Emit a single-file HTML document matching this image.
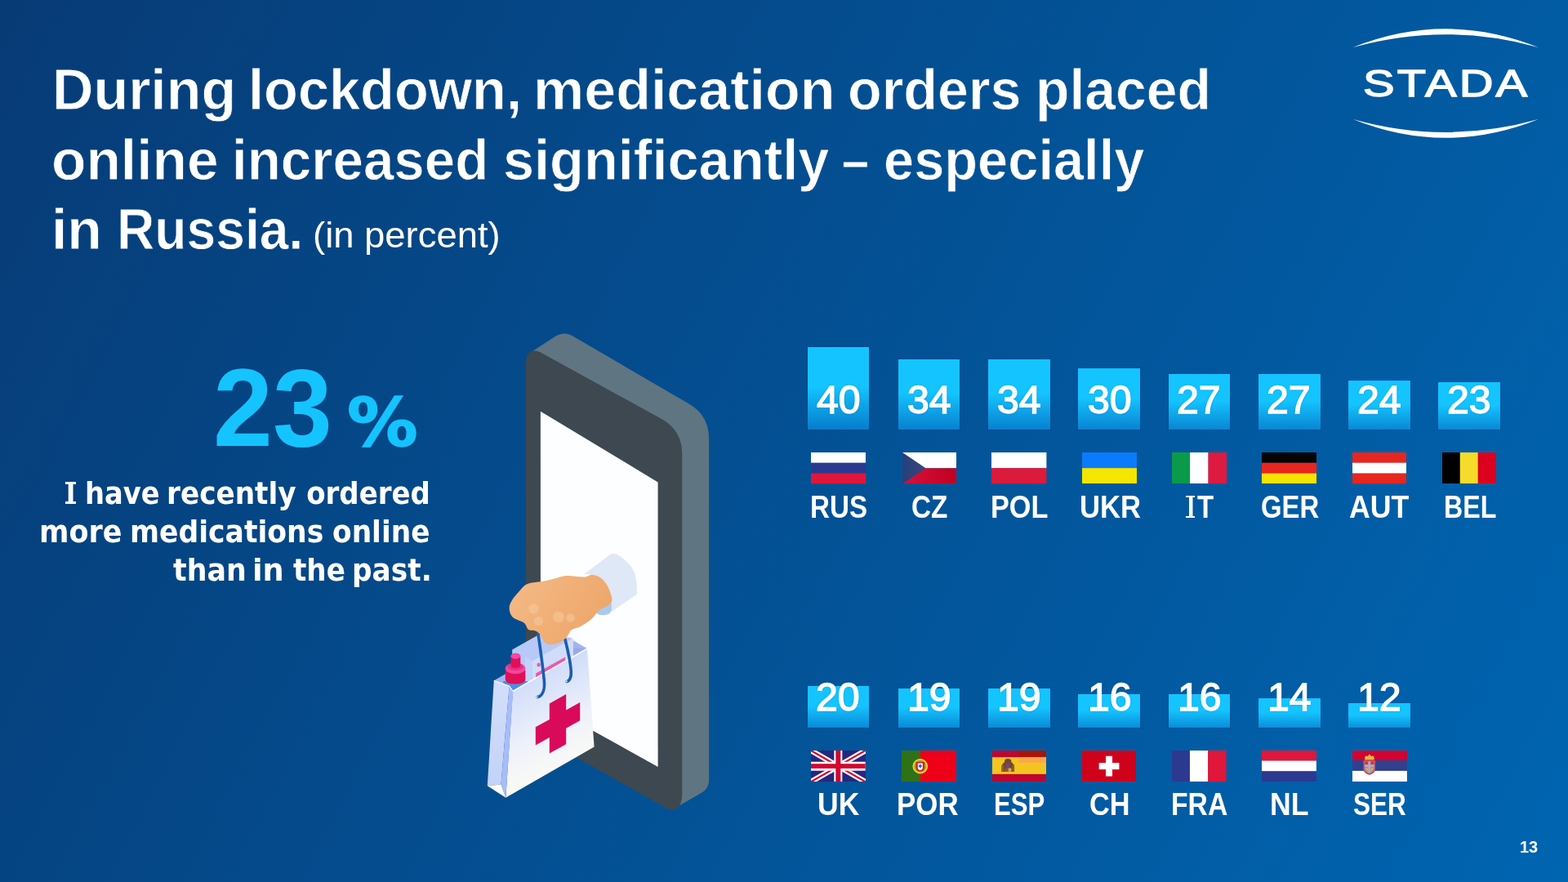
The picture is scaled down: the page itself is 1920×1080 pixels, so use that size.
<!DOCTYPE html>
<html lang="en">
<head>
<meta charset="utf-8">
<title>During lockdown, medication orders placed online increased significantly</title>
<style>
html,body{margin:0;padding:0}
body{width:1920px;height:1080px;overflow:hidden;position:relative;background:#07529a linear-gradient(117.5deg,#073b76 0%,#0065b1 100%);font-family:"Liberation Sans",sans-serif;font-weight:700;color:#fff}
.t{position:absolute;margin:0;white-space:pre;line-height:1;transform-origin:0 0;font-weight:700}
h1,p{margin:0;font-size:inherit;font-weight:inherit}
.w{position:static}
.sf{position:absolute;box-sizing:border-box;border:0 solid #fff}
.bar{position:absolute;width:75.8px;background-color:#14c4ff;box-shadow:0 0 2px rgba(0,40,110,.3)}
.n{position:absolute;margin:0;white-space:pre;line-height:1;transform-origin:0 0;font-weight:400;-webkit-text-stroke:1.4px #fff;text-shadow:0 0 3px rgba(0,70,150,.45)}
.flag,.ill,.logo{position:absolute;display:block}
.ill{left:580px;top:390px}
</style>
</head>
<body>
<h1>
<span class="t" style="left:63.77px;top:75.10px;font-size:70.2px;transform:scaleX(0.9954);-webkit-text-stroke:0.8px #063f7c;">During</span> <span class="t" style="left:303.87px;top:75.10px;font-size:70.2px;transform:scaleX(0.9760);-webkit-text-stroke:0.8px #064483;">lockdown,</span> <span class="t" style="left:652.51px;top:75.10px;font-size:70.2px;transform:scaleX(0.9972);-webkit-text-stroke:0.8px #044a8b;">medication</span> <span class="t" style="left:1038.33px;top:75.10px;font-size:70.2px;transform:scaleX(0.9729);-webkit-text-stroke:0.8px #044f93;">orders</span> <span class="t" style="left:1267.67px;top:75.10px;font-size:70.2px;transform:scaleX(0.9670);-webkit-text-stroke:0.8px #035398;">placed</span>
<span class="t" style="left:62.63px;top:160.70px;font-size:70.2px;transform:scaleX(0.9896);-webkit-text-stroke:0.8px #06407c;">online</span> <span class="t" style="left:283.95px;top:160.70px;font-size:70.2px;transform:scaleX(0.9591);-webkit-text-stroke:0.8px #054483;">increased</span> <span class="t" style="left:615.82px;top:160.70px;font-size:70.2px;transform:scaleX(0.9753);-webkit-text-stroke:0.8px #044b8c;">significantly</span> <span class="t" style="left:1031.31px;top:160.70px;font-size:70.2px;transform:scaleX(0.8429);-webkit-text-stroke:0.8px #044e91;">–</span> <span class="t" style="left:1082.15px;top:160.70px;font-size:70.2px;transform:scaleX(0.9517);-webkit-text-stroke:0.8px #035296;">especially</span>
<span class="t" style="left:62.85px;top:246.00px;font-size:70.2px;transform:scaleX(0.9906);-webkit-text-stroke:0.8px #063f7c;">in</span> <span class="t" style="left:142.93px;top:246.00px;font-size:70.2px;transform:scaleX(0.9142);-webkit-text-stroke:0.8px #064280;">Russia.</span>
<span class="t" style="left:382.90px;top:266.40px;font-size:44px;font-weight:400;transform:scaleX(1.0323);">(in percent)</span>
</h1>
<svg class="logo" style="left:1640px;top:20px" width="260" height="160" viewBox="1640 20 260 160" aria-hidden="true"><path fill="#fff" d="M1656.8 58 Q1770 12.600 1883.800 58 Q1770 26.400 1656.800 58Z"/><path fill="#fff" d="M1656.800 146 Q1770 191.600 1883.800 146 Q1770 177.800 1656.800 146Z"/></svg>
<div class="t" style="left:1668.54px;top:78.70px;font-size:46px;font-weight:400;transform:scaleX(1.2575);-webkit-text-stroke:1.4px #fff;letter-spacing:2.5px;">STADA</div>
<div class="t" style="left:260.95px;top:432.40px;font-size:135px;transform:scaleX(0.9707);color:#15c3ff;">23</div>
<div class="t" style="left:424.59px;top:476.80px;font-size:82px;font-family:'DejaVu Sans', 'Liberation Sans', sans-serif;transform:scaleX(1.0551);color:#15c3ff;-webkit-text-stroke:1.4px #15c3ff;">%</div>
<p>
<span class="w"><i class="sf" style="left:79.8px;top:589.8px;width:13.2px;height:27.3px;border-width:3.0px 0"></i><span class="t" style="left:80.74px;top:585.90px;font-size:37.8px;font-family:'DejaVu Sans Condensed', 'DejaVu Sans', sans-serif;transform:scaleX(0.8857);">I</span></span> <span class="t" style="left:103.73px;top:585.90px;font-size:37.8px;font-family:'DejaVu Sans Condensed', 'DejaVu Sans', sans-serif;transform:scaleX(0.9909);">have</span> <span class="t" style="left:204.38px;top:585.90px;font-size:37.8px;font-family:'DejaVu Sans Condensed', 'DejaVu Sans', sans-serif;transform:scaleX(1.0078);">recently</span> <span class="t" style="left:375.20px;top:585.90px;font-size:37.8px;font-family:'DejaVu Sans Condensed', 'DejaVu Sans', sans-serif;">ordered</span>
<span class="t" style="left:48.01px;top:633.00px;font-size:37.8px;font-family:'DejaVu Sans Condensed', 'DejaVu Sans', sans-serif;transform:scaleX(1.0287);">more</span> <span class="t" style="left:158.85px;top:633.00px;font-size:37.8px;font-family:'DejaVu Sans Condensed', 'DejaVu Sans', sans-serif;transform:scaleX(1.0170);">medications</span> <span class="t" style="left:406.79px;top:633.00px;font-size:37.8px;font-family:'DejaVu Sans Condensed', 'DejaVu Sans', sans-serif;transform:scaleX(1.0112);">online</span>
<span class="t" style="left:212.00px;top:680.00px;font-size:37.8px;font-family:'DejaVu Sans Condensed', 'DejaVu Sans', sans-serif;transform:scaleX(1.0235);">than</span> <span class="t" style="left:309.25px;top:680.00px;font-size:37.8px;font-family:'DejaVu Sans Condensed', 'DejaVu Sans', sans-serif;transform:scaleX(1.0833);">in</span> <span class="t" style="left:358.50px;top:680.00px;font-size:37.8px;font-family:'DejaVu Sans Condensed', 'DejaVu Sans', sans-serif;transform:scaleX(1.0048);">the</span> <span class="t" style="left:431.07px;top:680.00px;font-size:37.8px;font-family:'DejaVu Sans Condensed', 'DejaVu Sans', sans-serif;transform:scaleX(1.0111);">past.</span>
</p>
<svg class="ill" width="320" height="620" viewBox="580 390 320 620" aria-label="Hand reaching out of a smartphone holding a pharmacy bag" role="img">
<defs>
<linearGradient id="gBag" x1="0.1" y1="0" x2="0.4" y2="1"><stop offset="0" stop-color="#c3d2f6"/><stop offset="0.3" stop-color="#d6e0f9"/><stop offset="0.62" stop-color="#eef1fa"/><stop offset="1" stop-color="#fffef3"/></linearGradient>
<linearGradient id="gSide" x1="0" y1="0" x2="0" y2="1"><stop offset="0" stop-color="#d3defa"/><stop offset="1" stop-color="#c3d2f8"/></linearGradient>
<linearGradient id="gHand" x1="0" y1="0" x2="1" y2="0.5"><stop offset="0" stop-color="#f5bb87"/><stop offset="1" stop-color="#eda66a"/></linearGradient>
</defs>
<path fill="#5f7581" d="M649 432 L681 411.3 Q690.5 406 700.5 411 L845 495.3 Q868.1 509.5 868.1 537 L868.1 955 Q868.1 965.5 859.5 970.5 L826 989.8 L700 700Z"/>
<path fill="#3d4851" d="M643.7 448 Q643.7 424.5 661 431 L811 513.5 Q835.2 527.5 835.2 556 L835.2 971 Q835.2 997 816 989.8 L662 903 Q643.7 893 643.7 873Z"/>
<polygon fill="#fdfeff" points="661.9,503.7 805.6,590.4 805.6,938.9 661.9,859.2"/>
<path fill="#a9c9ef" d="M727 742 L749.5 738 Q750.5 748 746 751.5 Q739 755 731.500 751.800 Q728 749.500 727 742Z"/>
<path fill="#dfe8f6" d="M715.3 703.1 L747.2 678.7 Q752.5 676.6 757.5 680.1 Q770 688 776.5 700 Q780.3 710 780 727.4 L748.6 749.4 Q750.5 725 740 712 Q730 702 715.3 703.1Z"/>
<polygon fill="#a3b4ee" points="605.0,833.3 696.0,781.0 718.9,793.9 628.3,846.7"/>
<polygon fill="#9aa9e9" points="696.5,780.0 702.2,793.3 718.9,793.9 700.0,810.0"/>
<polygon fill="#b7c9f8" points="627.2,795.6 660.0,777.0 700.0,781.0 700.0,830.0 627.2,850.0"/>
<polygon fill="#d0dcf9" points="651.7,809.5 702.0,781.5 702.0,830.0 651.7,850.0"/>
<polygon fill="#c3d2f9" points="643.0,804.6 651.7,809.5 651.7,850.0 643.0,850.0"/>
<polygon fill="#ee5aa6" points="656.1,824.4 692.2,804.4 692.2,809.6 656.1,829.6"/>
<ellipse cx="659.6" cy="814" rx="2.2" ry="2.6" fill="#ee5aa6"/>
<path fill="#4b8fe3" d="M616.3 834 L645.8 834 L648 852 L616.3 852Z"/>
<path fill="#e00f59" d="M618.8 821 L643.4 821 L643.4 832 Q643.4 837.5 631 837.5 Q618.8 837.5 618.8 832Z"/>
<ellipse cx="631.1" cy="818.5" rx="12.4" ry="6.8" fill="#f0489c"/>
<ellipse cx="631.1" cy="816.3" rx="9.6" ry="5" fill="#e8308a"/>
<path fill="#e00f59" d="M625.5 803.5 L637.3 803.5 L637.3 814.5 Q637.3 818 631.4 818 Q625.5 818 625.5 814.5Z"/>
<ellipse cx="631.4" cy="803.3" rx="5.9" ry="3.6" fill="#f4479f"/>
<polygon fill="url(#gBag)" points="627.9,846.2 718.9,793.9 727.6,914.6 619.3,976.8"/>
<path stroke="#ffffff" stroke-width="1.3" fill="none" d="M627.9 846.4 L718.9 794.1"/>
<polygon fill="url(#gSide)" points="604.8,833.3 623.6,839.9 613.5,960.5 596.8,962.3"/>
<polygon fill="#a7bdf8" points="623.6,839.9 628.2,846.2 619.3,976.8 613.5,960.5"/>
<polygon fill="#fbfcfa" points="596.8,962.3 613.5,960.5 619.3,976.8"/>
<path stroke="#ffffff" stroke-width="1.1" fill="none" d="M604.8 833.4 L623.6 840 L628 846.3"/>
<polygon fill="#da0a5b" points="672.8,861.4 693.2,850.0 693.2,869.5 710.2,860.1 710.2,882.3 693.2,891.7 693.2,911.2 672.8,922.6 672.8,903.1 655.8,912.5 655.8,890.3 672.8,880.9"/>
<path stroke="#195db1" stroke-width="3.6" stroke-linecap="round" fill="none" d="M658.9 776 C661 790 664 810 666.3 833 C667.5 845 664 852 658.2 853.6"/>
<path stroke="#195db1" stroke-width="3.6" stroke-linecap="round" fill="none" d="M692 783 C695 795 698.5 810 699.3 822 C699.8 830 697 834 694.2 834.6"/>
<circle cx="657.6" cy="853.6" r="1.1" fill="#e6edfb"/><circle cx="693.8" cy="834.3" r="1.1" fill="#e6edfb"/>
<path fill="url(#gHand)" d="M623.6 744.7C623.5 741.2 625.1 738.2 627.0 735.0C628.9 731.8 631.6 728.6 634.7 725.3C637.8 721.9 640.5 717.2 645.8 714.9C651.1 712.6 660.5 712.7 666.7 711.4C673.0 710.1 678.7 708.2 683.3 707.2C687.9 706.2 689.1 705.2 694.4 705.1C699.7 705.0 710.2 706.7 715.3 706.5C720.4 706.3 721.5 703.5 725.0 703.7C728.5 703.9 732.9 705.5 736.1 707.9C739.3 710.3 742.2 714.0 744.4 718.3C746.6 722.6 749.1 729.9 749.3 733.6C749.5 737.3 748.5 738.3 745.8 740.6C743.1 742.9 736.8 744.7 733.3 747.5C729.8 750.3 728.7 754.0 725.0 757.2C721.3 760.4 715.3 764.6 711.1 766.9C706.9 769.2 702.8 769.0 700.0 771.1C697.2 773.2 696.7 776.9 694.4 779.4C692.1 781.9 689.3 784.8 686.1 786.4C682.9 788.0 678.2 789.2 675.0 789.2C671.8 789.2 669.0 788.5 666.7 786.4C664.4 784.3 663.0 779.0 661.1 776.7C659.2 774.4 657.9 773.4 655.6 772.5C653.3 771.6 649.5 772.7 647.2 771.1C644.9 769.5 644.9 765.3 641.7 762.8C638.5 760.2 630.8 758.8 627.8 755.8C624.8 752.8 623.7 748.2 623.6 744.7Z"/>
<circle cx="653.5" cy="745.5" r="6.2" fill="#f8cba0" opacity="0.5"/>
<circle cx="659.5" cy="760.5" r="5.6" fill="#f8cba0" opacity="0.5"/>
<circle cx="684" cy="755.5" r="7" fill="#f8cba0" opacity="0.5"/>
<circle cx="698.5" cy="756.5" r="5.2" fill="#f8cba0" opacity="0.5"/>
</svg>
<div class="bar" style="left:988.5px;top:425.3px;height:101.0px;background-image:linear-gradient(#14c4ff 0%,#14c4ff 48%,rgb(7,124,204) 100%)"></div>
<div class="n" style="left:999.60px;top:465.00px;font-size:49px;font-weight:400;transform:scaleX(0.9850);">40</div>
<svg class="flag" style="left:992.80px;top:553.70px" width="67.2" height="38.7" viewBox="0 0 67.2 38.7" role="img" aria-label="RUS flag"><rect x="0.00" y="0.00" width="67.20" height="12.90" fill="#ffffff"/><rect x="0.00" y="12.70" width="67.20" height="13.10" fill="#2b3990"/><rect x="0.00" y="25.60" width="67.20" height="13.10" fill="#e0173a"/></svg>
<div class="t" style="left:992.05px;top:602.00px;font-size:38px;transform:scaleX(0.8727);">RUS</div>
<div class="bar" style="left:1099.5px;top:440.4px;height:85.8px;background-image:linear-gradient(#14c4ff 0%,#14c4ff 48%,rgb(8,128,207) 100%)"></div>
<div class="n" style="left:1110.91px;top:465.00px;font-size:49px;font-weight:400;transform:scaleX(0.9850);">34</div>
<svg class="flag" style="left:1104.60px;top:553.70px" width="66.3" height="38.7" viewBox="0 0 66.3 38.7" role="img" aria-label="CZ flag"><defs><linearGradient id="czr" x1="0" x2="1" y1="0" y2="0"><stop offset="0" stop-color="#d5123f"/><stop offset="1" stop-color="#c20020"/></linearGradient><linearGradient id="czb" x1="0" x2="1" y1="0" y2="0"><stop offset="0" stop-color="#27407a"/><stop offset="1" stop-color="#36477d"/></linearGradient></defs><rect x="0.00" y="0.00" width="66.30" height="19.35" fill="#ffffff"/><rect x="0.00" y="19.35" width="66.30" height="19.35" fill="url(#czr)"/><polygon points="0,0 28.51,19.35 0,38.7" fill="url(#czb)"/></svg>
<div class="t" style="left:1115.62px;top:602.00px;font-size:38px;transform:scaleX(0.8755);">CZ</div>
<div class="bar" style="left:1210.1px;top:440.4px;height:85.8px;background-image:linear-gradient(#14c4ff 0%,#14c4ff 48%,rgb(8,128,207) 100%)"></div>
<div class="n" style="left:1221.11px;top:465.00px;font-size:49px;font-weight:400;transform:scaleX(0.9850);">34</div>
<svg class="flag" style="left:1214.30px;top:553.70px" width="67.4" height="38.7" viewBox="0 0 67.4 38.7" role="img" aria-label="POL flag"><rect x="0.00" y="0.00" width="67.40" height="19.35" fill="#ffffff"/><rect x="0.00" y="19.15" width="67.40" height="19.55" fill="#dc1a3c"/></svg>
<div class="t" style="left:1213.10px;top:602.00px;font-size:38px;transform:scaleX(0.9013);">POL</div>
<div class="bar" style="left:1320.3px;top:450.5px;height:75.8px;background-image:linear-gradient(#14c4ff 0%,#14c4ff 48%,rgb(9,131,209) 100%)"></div>
<div class="n" style="left:1331.50px;top:465.00px;font-size:49px;font-weight:400;transform:scaleX(0.9850);">30</div>
<svg class="flag" style="left:1325.00px;top:553.70px" width="67" height="38.7" viewBox="0 0 67 38.7" role="img" aria-label="UKR flag"><rect x="0.00" y="0.00" width="67.00" height="19.35" fill="#0a7cfb"/><rect x="0.00" y="19.15" width="67.00" height="19.55" fill="#f5e500"/></svg>
<div class="t" style="left:1321.68px;top:602.00px;font-size:38px;transform:scaleX(0.9114);">UKR</div>
<div class="bar" style="left:1430.5px;top:458.1px;height:68.2px;background-image:linear-gradient(#14c4ff 0%,#14c4ff 48%,rgb(9,133,210) 100%)"></div>
<div class="n" style="left:1441.41px;top:465.00px;font-size:49px;font-weight:400;transform:scaleX(0.9850);">27</div>
<svg class="flag" style="left:1435.00px;top:553.70px" width="67" height="38.7" viewBox="0 0 67 38.7" role="img" aria-label="IT flag"><rect x="0.00" y="0.00" width="22.33" height="38.70" fill="#0b9a49"/><rect x="22.13" y="0.00" width="22.53" height="38.70" fill="#ffffff"/><rect x="44.47" y="0.00" width="22.53" height="38.70" fill="#de1a40"/></svg>
<div class="w"><i class="sf" style="left:1451.9px;top:607.0px;width:11.3px;height:27.0px;border-width:2.6px 0"></i><span class="t" style="left:1454.00px;top:602.00px;font-size:38px;transform:scaleX(0.8000);">I</span><span class="t" style="left:1465.60px;top:602.00px;font-size:38px;transform:scaleX(0.8696);">T</span></div>
<div class="bar" style="left:1541.0px;top:458.1px;height:68.2px;background-image:linear-gradient(#14c4ff 0%,#14c4ff 48%,rgb(9,133,210) 100%)"></div>
<div class="n" style="left:1551.31px;top:465.00px;font-size:49px;font-weight:400;transform:scaleX(0.9850);">27</div>
<svg class="flag" style="left:1545.00px;top:553.70px" width="67.2" height="38.7" viewBox="0 0 67.2 38.7" role="img" aria-label="GER flag"><rect x="0.00" y="0.00" width="67.20" height="12.90" fill="#050505"/><rect x="0.00" y="12.70" width="67.20" height="13.10" fill="#e8261f"/><rect x="0.00" y="25.60" width="67.20" height="13.10" fill="#f7e300"/></svg>
<div class="t" style="left:1544.13px;top:602.00px;font-size:38px;transform:scaleX(0.8650);">GER</div>
<div class="bar" style="left:1651.1px;top:465.7px;height:60.6px;background-image:linear-gradient(#14c4ff 0%,#14c4ff 48%,rgb(9,135,212) 100%)"></div>
<div class="n" style="left:1661.62px;top:465.00px;font-size:49px;font-weight:400;transform:scaleX(0.9850);">24</div>
<svg class="flag" style="left:1655.90px;top:553.70px" width="66.6" height="38.7" viewBox="0 0 66.6 38.7" role="img" aria-label="AUT flag"><rect x="0.00" y="0.00" width="66.60" height="12.90" fill="#e8261f"/><rect x="0.00" y="12.70" width="66.60" height="13.10" fill="#ffffff"/><rect x="0.00" y="25.60" width="66.60" height="13.10" fill="#e8261f"/></svg>
<div class="t" style="left:1652.06px;top:602.00px;font-size:38px;transform:scaleX(0.9390);">AUT</div>
<div class="bar" style="left:1761.3px;top:468.2px;height:58.1px;background-image:linear-gradient(#14c4ff 0%,#14c4ff 48%,rgb(9,136,212) 100%)"></div>
<div class="n" style="left:1772.21px;top:465.00px;font-size:49px;font-weight:400;transform:scaleX(0.9850);">23</div>
<svg class="flag" style="left:1766.30px;top:553.70px" width="65.9" height="38.7" viewBox="0 0 65.9 38.7" role="img" aria-label="BEL flag"><rect x="0.00" y="0.00" width="21.97" height="38.70" fill="#000000"/><rect x="21.77" y="0.00" width="22.17" height="38.70" fill="#f5dc28"/><rect x="43.73" y="0.00" width="22.17" height="38.70" fill="#dc021f"/></svg>
<div class="t" style="left:1767.81px;top:602.00px;font-size:38px;transform:scaleX(0.8466);">BEL</div>
<div class="bar" style="left:988.5px;top:840.2px;height:50.8px;background-image:linear-gradient(#14c4ff 0%,#14c4ff 48%,rgb(10,138,214) 100%)"></div>
<div class="n" style="left:999.11px;top:829.00px;font-size:49px;font-weight:400;transform:scaleX(0.9850);">20</div>
<svg class="flag" style="left:993.30px;top:919.10px" width="66.7" height="38.3" viewBox="0 0 66.7 38.3" role="img" aria-label="UK flag"><rect x="0.00" y="0.00" width="66.70" height="38.30" fill="#26277f"/><path d="M0 0L66.7 38.3M66.7 0L0 38.3" stroke="#fff" stroke-width="6.6"/><path d="M0 0L66.7 38.3M66.7 0L0 38.3" stroke="#d2062f" stroke-width="2.2"/><path d="M33.35 0V38.3" stroke="#fff" stroke-width="10"/><path d="M0 19.15H66.7" stroke="#fff" stroke-width="11"/><path d="M33.35 0V38.3" stroke="#d2062f" stroke-width="6"/><path d="M0 19.15H66.7" stroke="#d2062f" stroke-width="5.9"/></svg>
<div class="t" style="left:1001.23px;top:966.00px;font-size:38px;transform:scaleX(0.9346);">UK</div>
<div class="bar" style="left:1099.5px;top:842.7px;height:48.3px;background-image:linear-gradient(#14c4ff 0%,#14c4ff 48%,rgb(10,138,214) 100%)"></div>
<div class="n" style="left:1111.12px;top:829.00px;font-size:49px;font-weight:400;transform:scaleX(0.9850);">19</div>
<svg class="flag" style="left:1104.40px;top:919.10px" width="66.9" height="38.3" viewBox="0 0 66.9 38.3" role="img" aria-label="POR flag"><rect x="0.00" y="0.00" width="66.90" height="38.30" fill="#ee0019"/><rect x="0.00" y="0.00" width="22.80" height="38.30" fill="#2f7116"/><circle cx="22.8" cy="19.3" r="9.3" fill="#e9d52a"/><circle cx="22.8" cy="19.3" r="7.5" fill="#5c7d1a" opacity=".55"/><path d="M17.6 14h10.4v6.6q0 5-5.2 5t-5.200-5z" fill="#d3202a"/><path d="M19.800 15.400h6v5q0 3.400-3 3.400t-3-3.400z" fill="#fff"/><rect x="21.800" y="17" width="2" height="4.400" fill="#4a5fc4"/><rect x="20.600" y="18.300" width="4.400" height="1.600" fill="#4a5fc4"/></svg>
<div class="t" style="left:1097.76px;top:966.00px;font-size:38px;transform:scaleX(0.9177);">POR</div>
<div class="bar" style="left:1210.1px;top:842.7px;height:48.3px;background-image:linear-gradient(#14c4ff 0%,#14c4ff 48%,rgb(10,138,214) 100%)"></div>
<div class="n" style="left:1221.12px;top:829.00px;font-size:49px;font-weight:400;transform:scaleX(0.9850);">19</div>
<svg class="flag" style="left:1214.90px;top:919.10px" width="66.5" height="38.3" viewBox="0 0 66.5 38.3" role="img" aria-label="ESP flag"><rect x="0.00" y="0.00" width="66.50" height="38.30" fill="#f4c521"/><rect x="0.00" y="0.00" width="66.50" height="8.20" fill="#bf0630"/><rect x="0.00" y="28.90" width="66.50" height="9.40" fill="#bf0630"/><rect x="32.50" y="0.00" width="34.00" height="8.20" fill="#ab1408"/><rect x="32.50" y="8.20" width="34.00" height="6.80" fill="#fba848"/><path d="M11.300 19.500q0-3 2.200-3.500v-1.200h1.600v-2q0-2.600 4.100-2.800q4.100 .2 4.100 2.800v2h1.600v1.200q2.200 .5 2.200 3.500v6.600h-15.800z" fill="#6f4a1d"/><rect x="16.300" y="14.600" width="5.800" height="7.600" fill="#7b3f7a"/><rect x="15.300" y="21.600" width="3.800" height="4.200" fill="#a0521c"/><rect x="19.600" y="21.600" width="3.800" height="4.200" fill="#c9b04a"/><rect x="12" y="18" width="2.200" height="7.800" fill="#8a6a2a"/><rect x="24.600" y="18" width="2.200" height="7.800" fill="#8a6a2a"/></svg>
<div class="t" style="left:1217.16px;top:966.00px;font-size:38px;transform:scaleX(0.8192);">ESP</div>
<div class="bar" style="left:1320.3px;top:850.4px;height:40.6px;background-image:linear-gradient(#14c4ff 0%,#14c4ff 48%,rgb(10,141,216) 100%)"></div>
<div class="n" style="left:1331.92px;top:829.00px;font-size:49px;font-weight:400;transform:scaleX(0.9850);">16</div>
<svg class="flag" style="left:1325.20px;top:919.10px" width="66.1" height="38.3" viewBox="0 0 66.1 38.3" role="img" aria-label="CH flag"><rect x="0.00" y="0.00" width="66.10" height="38.30" fill="#d0021b"/><rect x="20.65" y="15.15" width="24.8" height="8" fill="#fff"/><rect x="29.05" y="6.75" width="8" height="24.8" fill="#fff"/></svg>
<div class="t" style="left:1334.10px;top:966.00px;font-size:38px;transform:scaleX(0.9038);">CH</div>
<div class="bar" style="left:1430.5px;top:850.4px;height:40.6px;background-image:linear-gradient(#14c4ff 0%,#14c4ff 48%,rgb(10,141,216) 100%)"></div>
<div class="n" style="left:1442.02px;top:829.00px;font-size:49px;font-weight:400;transform:scaleX(0.9850);">16</div>
<svg class="flag" style="left:1435.20px;top:919.10px" width="66.5" height="38.3" viewBox="0 0 66.5 38.3" role="img" aria-label="FRA flag"><rect x="0.00" y="0.00" width="22.17" height="38.30" fill="#2b3990"/><rect x="21.97" y="0.00" width="22.37" height="38.30" fill="#ffffff"/><rect x="44.13" y="0.00" width="22.37" height="38.30" fill="#e0173a"/></svg>
<div class="t" style="left:1434.23px;top:966.00px;font-size:38px;transform:scaleX(0.8867);">FRA</div>
<div class="bar" style="left:1541.0px;top:855.4px;height:35.6px;background-image:linear-gradient(#14c4ff 0%,#14c4ff 48%,rgb(11,142,217) 100%)"></div>
<div class="n" style="left:1551.73px;top:829.00px;font-size:49px;font-weight:400;transform:scaleX(0.9850);">14</div>
<svg class="flag" style="left:1545.20px;top:919.10px" width="66.9" height="38.3" viewBox="0 0 66.9 38.3" role="img" aria-label="NL flag"><rect x="0.00" y="0.00" width="66.90" height="12.77" fill="#e0173a"/><rect x="0.00" y="12.57" width="66.90" height="12.97" fill="#ffffff"/><rect x="0.00" y="25.33" width="66.90" height="12.97" fill="#2b3990"/></svg>
<div class="t" style="left:1554.62px;top:966.00px;font-size:38px;transform:scaleX(0.9375);">NL</div>
<div class="bar" style="left:1651.1px;top:860.5px;height:30.5px;background-image:linear-gradient(#14c4ff 0%,#14c4ff 48%,rgb(11,143,218) 100%)"></div>
<div class="n" style="left:1662.42px;top:829.00px;font-size:49px;font-weight:400;transform:scaleX(0.9850);">12</div>
<svg class="flag" style="left:1655.90px;top:919.10px" width="66.9" height="38.3" viewBox="0 0 66.9 38.3" role="img" aria-label="SER flag"><rect x="0.00" y="0.00" width="66.90" height="12.30" fill="#d3022f"/><rect x="0.00" y="12.10" width="66.90" height="13.00" fill="#30408f"/><rect x="0.00" y="24.90" width="66.90" height="13.40" fill="#ffffff"/><path d="M15.400 11.400q-1-3.400 1.400-5.200l1.600 1 2.500-2.700 2.500 2.700 1.600-1q2.400 1.800 1.400 5.200z" fill="#e8b93a"/><path d="M13.400 11.700h14.800v10.800q0 5.200-7.400 7.600q-7.400-2.400-7.400-7.600z" fill="#c3475c"/><path d="M14.600 12.900h12.400v9.400q0 4.200-6.200 6.300q-6.200-2.100-6.200-6.300z" fill="#9d8f99"/><rect x="19.300" y="13.400" width="3" height="13.600" fill="#b9a9c4"/><rect x="15.400" y="17.600" width="10.800" height="2.400" fill="#b9a9c4"/><path d="M15.200 13.400h4v3.600h-4zM22.400 13.400h4v3.600h-4z" fill="#c5354a"/><path d="M15.600 21.500h3.400v3.800q-2.200-.8-3.400-3.800zM22.600 21.500h3.400q-1.200 3-3.400 3.800z" fill="#d8b23a"/></svg>
<div class="t" style="left:1657.17px;top:966.00px;font-size:38px;transform:scaleX(0.8289);">SER</div>
<div class="t" style="left:1861.45px;top:1026.40px;font-size:21px;transform:scaleX(0.9500);">13</div>
</body>
</html>
